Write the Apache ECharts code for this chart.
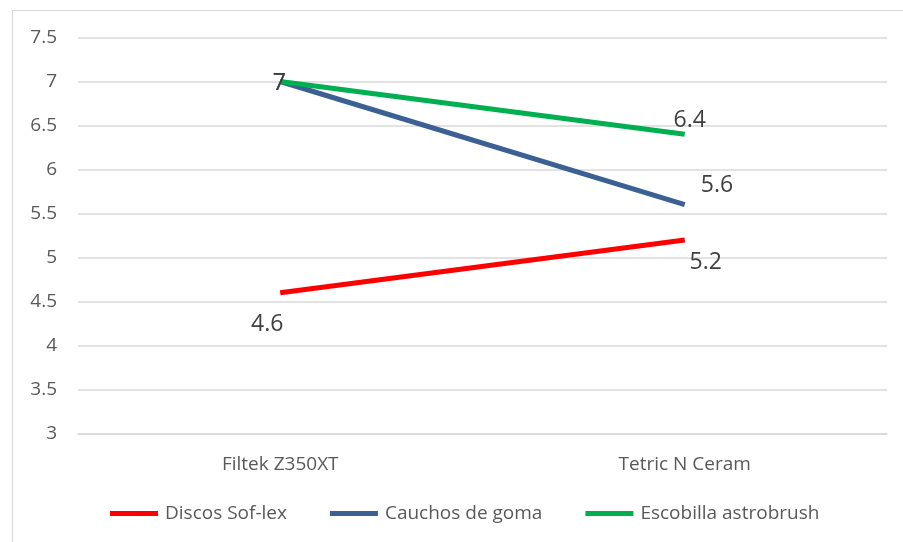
<!DOCTYPE html>
<html>
<head>
<meta charset="utf-8">
<style>
  html, body { margin: 0; padding: 0; background: #fff; }
  #frame { position: absolute; left: 12px; top: 10px; width: 891px; height: 532px;
           border-top: 1px solid #d9d9d9; border-left: 1px solid #d9d9d9; }
  #chart { position: absolute; left: 0; top: 0; width: 903px; height: 542px; }
</style>
<script src="https://cdn.jsdelivr.net/npm/echarts@6/dist/echarts.min.js"></script>
</head>
<body>
<div id="frame"></div>
<div id="chart"></div>
<script>
var categories = ['Filtek Z350XT', 'Tetric N Ceram'];
var discos = [4.6, 5.2];
var cauchos = [7, 5.6];
var escobilla = [7, 6.4];
var seriesNames = ['Discos Sof-lex', 'Cauchos de goma', 'Escobilla astrobrush'];

var font = '"Open Sans", Lato, sans-serif';
var chart = echarts.init(document.getElementById('chart'));

function lbl(pos, dist, off) {
    return { show: true, position: pos, distance: dist, offset: off,
             fontSize: 23, color: '#404040', fontFamily: font };
}
// label placement per point, same order as the value arrays
var discosLbl = [lbl('bottom', 20, [-13, 0]), lbl('bottom', 11, [21, 0])];
var cauchosLbl = [lbl('inside', 0, [-1, 2]), lbl('right', 16, [0, -19])];
var escobillaLbl = [lbl('inside', 0, [-1, 2]), lbl('top', 2, [5, 0])];

function mk(vals, labels) {
    return vals.map(function (v, i) { return { value: v, label: labels[i] }; });
}

function line(name, vals, labels) {
    return { name: name, type: 'line', data: mk(vals, labels),
             showSymbol: true, symbol: 'circle', symbolSize: 0.1,
             lineStyle: { width: 5 } };
}

var option = {
    animation: false,
    color: ['#ff0000', '#3a6094', '#00b050'],
    grid: { left: 78, right: 16, top: 37.5, bottom: 108.5 },
    legend: {
        bottom: 14, left: 105,
        itemWidth: 48, itemHeight: 5, itemGap: 43, icon: 'rect',
        textStyle: { fontSize: 19, color: '#595959', fontFamily: font, padding: [0, 0, 0, 2] },
        data: seriesNames
    },
    xAxis: {
        type: 'category', data: categories, boundaryGap: true,
        axisLine: { show: true, lineStyle: { color: '#d9d9d9', width: 1.5 } },
        axisTick: { show: false },
        axisLabel: { margin: 22, fontSize: 19, color: '#595959', fontFamily: font }
    },
    yAxis: {
        type: 'value', min: 3, max: 7.5, interval: 0.5,
        axisLine: { show: false }, axisTick: { show: false },
        axisLabel: { margin: 21, fontSize: 19, color: '#595959', fontFamily: font },
        splitLine: { lineStyle: { color: '#d9d9d9', width: 1.5 } }
    },
    series: [
        line(seriesNames[0], discos, discosLbl),
        line(seriesNames[1], cauchos, cauchosLbl),
        line(seriesNames[2], escobilla, escobillaLbl)
    ]
};
chart.setOption(option);
</script>
</body>
</html>
